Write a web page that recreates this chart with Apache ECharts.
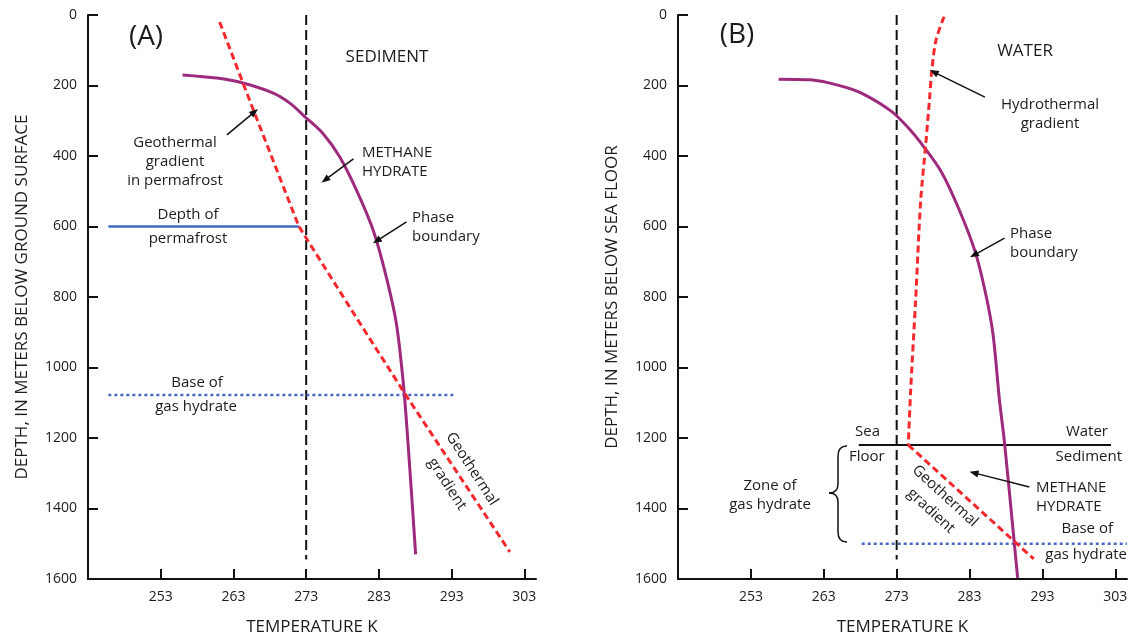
<!DOCTYPE html>
<html><head><meta charset="utf-8">
<script src="https://cdn.jsdelivr.net/npm/echarts@6/dist/echarts.min.js"></script>
<style>html,body{margin:0;padding:0;background:#fff}#c{width:1131px;height:641px}</style>
</head><body><div id="c"></div>
<script>
// ---- data (temperature K, depth m) ----
const tempTicks = [253, 263, 273, 283, 293, 303];
const depthTicks = [0, 200, 400, 600, 800, 1000, 1200, 1400, 1600];
const freezingLine = [[273, 0], [273, 1545]];
// Panel A
const phaseA = [[256.0,170],[260.7,179],[264.3,193],[268.4,221],[270.75,250],[272.8,288],[275.3,336],[277.6,402],[279.9,496],[282.2,610],[284.0,742],[285.4,875],[286.4,1054],[287.1,1243],[288.05,1530]];
const geoPermafrostA = [[261.1,20],[265.9,278],[272.0,600]];
const geoGradientA = [[272.0,600],[280.1,865],[286.6,1075],[301.0,1523]];
const permafrostDepthA = [[245.8,600],[272.0,600]];
const baseHydrateA = [[245.8,1078],[293.4,1078]];
// Panel B
const phaseB = [[256.8,182],[261.2,184],[265.3,201],[268.1,221],[272.2,272],[274.5,318],[276.8,376],[279.1,444],[281.4,544],[283.7,667],[285.1,780],[286.2,903],[287.1,1092],[287.8,1214],[289.1,1490],[289.6,1597]];
const hydroGradientB = [[279.5,5],[278.4,71],[277.8,161],[277.5,241],[277.0,364],[276.3,525],[275.6,809],[274.9,1073],[274.6,1220]];
const geoGradientB = [[274.6,1220],[289.4,1498],[291.8,1543]];
const seaFloorB = [[267.8,1220],[302.4,1220]];
const baseHydrateB = [[268.2,1500],[304.6,1500]];
// arrows [from, to]
const arrowsA = [[[262.1,340],[265.9,275]],[[279.5,408],[275.6,468]],[[286.8,587],[282.7,641]]];
const arrowsB = [[[285.1,233],[278.1,162]],[[287.8,633],[283.6,681]],[[291.2,1339],[283.6,1299]]];

const FONT = '"Open Sans", "Liberation Sans", sans-serif';
const TXT = '#1c1c1c';
const PURPLE = '#9e2a7e', RED = '#f5282d', BLUE = '#3a6cc0', BLUED = '#4a67c4';

function xAx(i){return {gridIndex:i,type:'value',min:243,max:304.6,
  name:'TEMPERATURE K',nameLocation:'middle',nameGap:40,
  nameTextStyle:{fontFamily:FONT,fontSize:17,color:TXT},
  axisLine:{onZero:false,lineStyle:{color:'#111',width:2}},
  axisTick:{inside:true,length:10,lineStyle:{color:'#111',width:2},customValues:tempTicks},
  axisLabel:{fontFamily:FONT,fontSize:14,color:TXT,margin:11,customValues:tempTicks},
  splitLine:{show:false}};}
function yAx(i,name){return {gridIndex:i,type:'value',inverse:true,min:0,max:1600,interval:200,
  name:name,nameLocation:'middle',nameGap:57,
  nameTextStyle:{fontFamily:FONT,fontSize:17,color:TXT},
  axisLine:{onZero:false,lineStyle:{color:'#111',width:2}},
  axisTick:{inside:true,length:10,lineStyle:{color:'#111',width:2}},
  axisLabel:{fontFamily:FONT,fontSize:14,color:TXT,margin:11,formatter:v=>String(v)},
  splitLine:{show:false}};}
function ln(i,data,color,width,type,smooth){return {type:'line',xAxisIndex:i,yAxisIndex:i,data:data,
  showSymbol:false,symbol:'none',smooth:smooth||false,silent:true,animation:false,
  lineStyle:{color:color,width:width,type:type||'solid',cap:'butt'}};}
function arrows(i,list){return {type:'line',xAxisIndex:i,yAxisIndex:i,data:[],silent:true,animation:false,
  markLine:{silent:true,animation:false,symbol:['none','triangle'],symbolSize:[7,9],label:{show:false},
    lineStyle:{color:'#111',width:1.5,type:'solid'},
    data:list.map(a=>[{coord:a[0]},{coord:a[1]}])}};}

function t(text,x,y,opt){opt=opt||{};return {type:'text',x:x,y:y,rotation:opt.rot||0,silent:true,
  style:{text:text,fill:TXT,font:(opt.size||15)+'px '+FONT,align:opt.align||'center',verticalAlign:'middle',lineHeight:opt.lh||19}};}
function bz(x1,y1,cx,cy,x2,y2){return {type:'bezierCurve',silent:true,
  shape:{x1:x1,y1:y1,cpx1:cx,cpy1:cy,x2:x2,y2:y2},style:{stroke:'#111',lineWidth:1.5,fill:null}};}
function sl(x1,y1,x2,y2){return {type:'line',silent:true,shape:{x1:x1,y1:y1,x2:x2,y2:y2},style:{stroke:'#111',lineWidth:1.5}};}

const chart = echarts.init(document.getElementById('c'),null,{renderer:'canvas'});
chart.setOption({
  animation:false,
  grid:[{left:88,right:595,top:15,bottom:62},{left:678,right:4,top:15,bottom:62}],
  xAxis:[xAx(0),xAx(1)],
  yAxis:[yAx(0,'DEPTH, IN METERS BELOW GROUND SURFACE'),yAx(1,'DEPTH, IN METERS BELOW SEA FLOOR')],
  series:[
    ln(0,freezingLine,'#111',2,[10,5]),
    ln(0,permafrostDepthA,BLUE,2.5),
    ln(0,baseHydrateA,BLUED,2.5,[3,3]),
    ln(0,phaseA,PURPLE,3,'solid',0.3),
    ln(0,geoPermafrostA,RED,3,[7,4]),
    ln(0,geoGradientA,RED,3,[7,4]),
    arrows(0,arrowsA),
    ln(1,freezingLine,'#111',2,[10,5]),
    ln(1,seaFloorB,'#111',2),
    ln(1,baseHydrateB,BLUED,2.5,[3,3]),
    ln(1,phaseB,PURPLE,3,'solid',0.3),
    ln(1,hydroGradientB,RED,3,[7,4],0.3),
    ln(1,geoGradientB,RED,3,[7,4]),
    arrows(1,arrowsB)
  ],
  graphic:[
    t('(A)',146,37,{size:28}),
    t('SEDIMENT',387,57,{size:17}),
    t('Geothermal\ngradient\nin permafrost',175,162),
    t('METHANE\nHYDRATE',362,162,{align:'left'}),
    t('Phase\nboundary',412,227,{align:'left'}),
    t('Depth of',188,215),
    t('permafrost',188,239),
    t('Base of',197,383),
    t('gas hydrate',196,407),
    t('Geothermal',472,469,{rot:-57*Math.PI/180}),
    t('gradient',447,484,{rot:-57*Math.PI/180}),
    t('(B)',737,35,{size:28}),
    t('WATER',1025,51,{size:17}),
    t('Hydrothermal\ngradient',1050,114),
    t('Phase\nboundary',1010,243,{align:'left'}),
    t('Sea',855,432,{align:'left'}),
    t('Floor',849,457,{align:'left'}),
    t('Water',1108,432,{align:'right'}),
    t('Sediment',1122,457,{align:'right'}),
    t('METHANE\nHYDRATE',1036,497,{align:'left'}),
    t('Base of',1113,529,{align:'right'}),
    t('gas hydrate',1127,555,{align:'right'}),
    t('Geothermal',945,496,{rot:-42.6*Math.PI/180}),
    t('gradient',931,511,{rot:-42.6*Math.PI/180}),
    t('Zone of\ngas hydrate',770,495),
    bz(847,446,838,446,838,456), sl(838,456,838,484), bz(838,484,838,493,829,493),
    bz(829,493,838,493,838,502), sl(838,502,838,532), bz(838,532,838,542,847,542)
  ]
});
</script></body></html>
